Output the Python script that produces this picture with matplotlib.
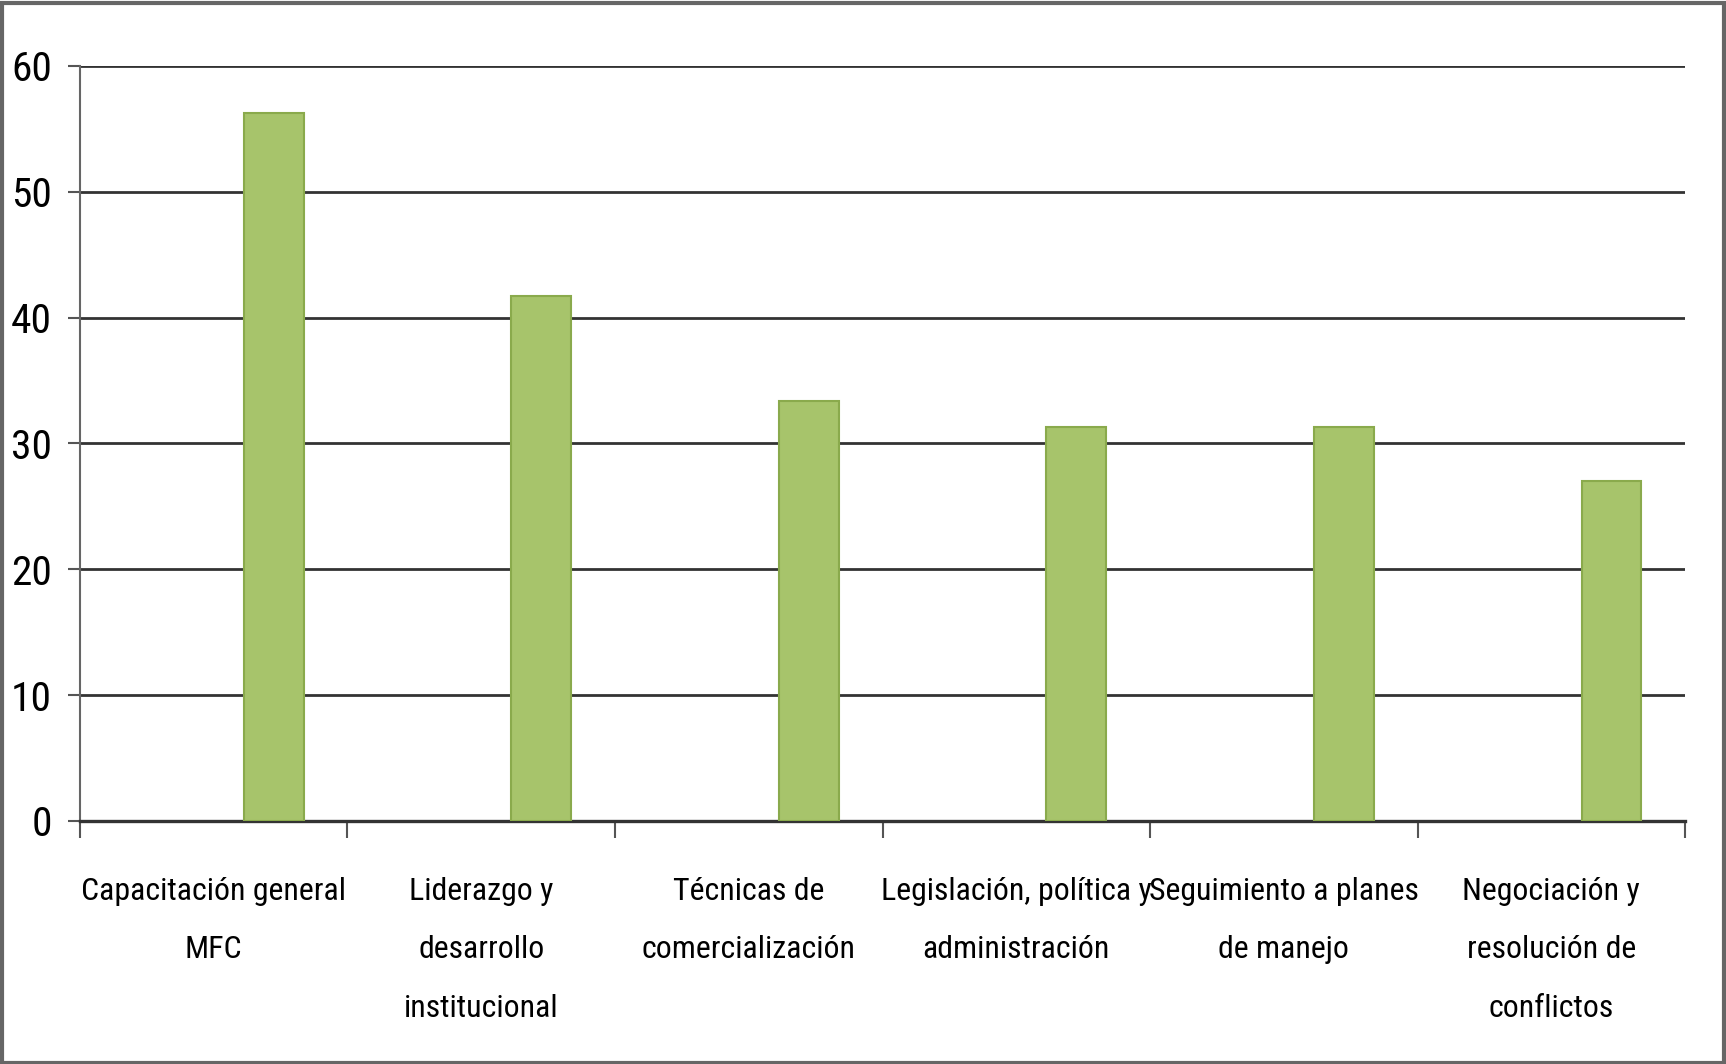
import numpy as np
import matplotlib
matplotlib.use('Agg')
import matplotlib.pyplot as plt
from matplotlib import font_manager as fm
from matplotlib.patches import Rectangle
from matplotlib.transforms import ScaledTranslation

categories = [
    'Capacitación general\nMFC',
    'Liderazgo y\ndesarrollo\ninstitucional',
    'Técnicas de\ncomercialización',
    'Legislación, política y\nadministración',
    'Seguimiento a planes\nde manejo',
    'Negociación y\nresolución de\nconflictos',
]
values = [56.3, 41.7, 33.4, 31.3, 31.3, 27.0]
y_ticks = [0, 10, 20, 30, 40, 50, 60]

BAR_FILL = '#a7c46b'
BAR_EDGE = '#8aaa4c'
GRID = '#333333'

# the original uses a narrow (Calibri-like) face; take the narrowest one installed
fonts = fm.fontManager.ttflist
names = {f.name for f in fonts}
stretch = 'normal'
family = 'DejaVu Sans'
for cand in ['Liberation Sans Narrow', 'Roboto Condensed', 'Open Sans Condensed']:
    if cand in names:
        family = cand
        break
else:
    if any(f.name == 'DejaVu Sans' and f.stretch == 'condensed' for f in fonts):
        stretch = 'condensed'
plt.rcParams['font.family'] = [family, 'DejaVu Sans']
plt.rcParams['font.stretch'] = stretch

fig = plt.figure(figsize=(17.26, 10.64), dpi=100)
ax = fig.add_axes([0.0463, 0.2284, 0.9300, 0.7096])

# size the labels so the widest line is about as wide as in the original (~256 px)
probe = fig.text(0, 0, 'Capacitación general', fontsize=20)
w = probe.get_window_extent(fig.canvas.get_renderer()).width
probe.remove()
fsize = min(30, 20 * 264 / w)

x = np.arange(len(categories))
ax.bar(x + 0.725, values, width=0.224, color=BAR_FILL, edgecolor=BAR_EDGE,
       linewidth=1.5, zorder=3)

ax.set_xlim(0, len(categories))
ax.set_ylim(0, 60)
ax.set_yticks(y_ticks)
ax.set_yticklabels([str(v) for v in y_ticks], fontsize=fsize * 1.3)
ax.yaxis.grid(True, color=GRID, linewidth=2.0, zorder=1)
ax.set_axisbelow(True)
shift = ScaledTranslation(0, -4 / 72, fig.dpi_scale_trans)
for lab in ax.get_yticklabels():
    lab.set_transform(lab.get_transform() + shift)

# boundaries as major ticks, category names as minor
ax.set_xticks(np.arange(len(categories) + 1))
ax.set_xticklabels([])
ax.set_xticks(x + 0.5, minor=True)
ax.set_xticklabels(categories, minor=True, fontsize=fsize, linespacing=2.3)
ax.tick_params(axis='x', which='minor', length=0, pad=40)
ax.tick_params(axis='x', which='major', length=12, width=1.5, color='#555555')
ax.tick_params(axis='y', length=9, width=1.5, color='#555555', pad=11)

for side in ['top', 'right']:
    ax.spines[side].set_visible(False)
ax.spines['left'].set_color('#666666')
ax.spines['left'].set_linewidth(1.5)
ax.spines['bottom'].set_color('#333333')
ax.spines['bottom'].set_linewidth(2.4)

# outer frame of the picture
fig.patches.append(Rectangle((0.001, 0.001), 0.998, 0.996, transform=fig.transFigure,
                             fill=False, edgecolor='#666666', linewidth=3))

plt.savefig('out.png', dpi=100)
plt.close()
